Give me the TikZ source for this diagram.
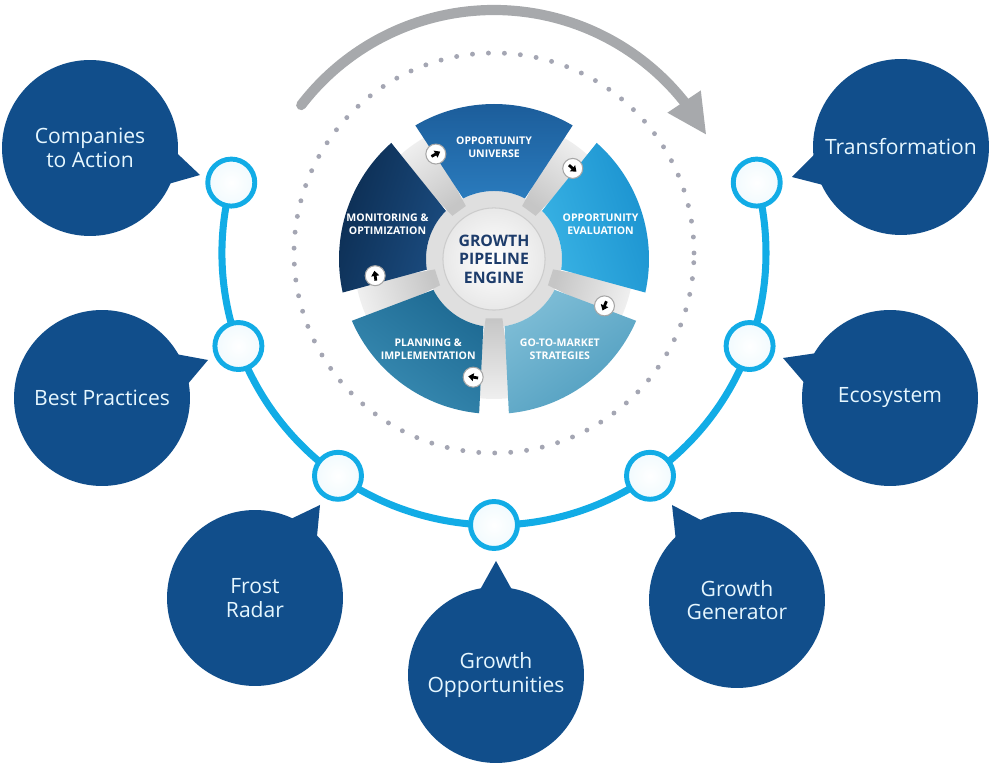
\documentclass[tikz,border=0pt]{standalone}
\usepackage{fontspec}
\setmainfont{Open Sans}
\usetikzlibrary{arrows.meta, bending, calc}

\definecolor{navy}{HTML}{114E8B}
\definecolor{bubbletext}{HTML}{E6F7FF}
\definecolor{track}{HTML}{12ACE6}
\definecolor{arrowgray}{HTML}{A7A9AC}
\definecolor{dotgray}{HTML}{A4A6B3}
\definecolor{enginetext}{HTML}{1D3C6B}
\definecolor{segAa}{HTML}{1B5B98}
\definecolor{segAb}{HTML}{2A7BBD}
\definecolor{segBa}{HTML}{1990CE}
\definecolor{segBb}{HTML}{38B2E4}
\definecolor{segCa}{HTML}{4F9DBF}
\definecolor{segCb}{HTML}{7EBDD6}
\definecolor{segDa}{HTML}{3A8DB4}
\definecolor{segDb}{HTML}{1E6A93}
\definecolor{segEa}{HTML}{0B2B4F}
\definecolor{segEb}{HTML}{1B4C80}

\begin{document}
\begin{tikzpicture}[x=0.02cm, y=0.02cm,
    bubble/.style={circle, fill=navy, minimum size=3.52cm, inner sep=0pt, align=center,
      text=bubbletext, font=\fontsize{12}{13.5}\selectfont},
    knot/.style={circle, draw=track, line width=2.8pt, inner color=white, outer color=track!6,
      minimum size=0.94cm, inner sep=0pt},
    seglabel/.style={text=white, align=center, font=\fontsize{6}{7.5}\selectfont\bfseries},
    icon/.style={circle, fill=white, draw=gray!70, line width=0.6pt, minimum size=0.4cm, inner sep=0pt}]
		\useasboundingbox (0,0) rectangle (994,767);
		\coordinate (c) at (494,514);
		\coordinate (w) at (494,508);
		% dotted ring and turning arrow
		\draw[dotgray, line width=2.8pt, line cap=round, dash pattern=on 0pt off 9.1pt] (c) circle[radius=200];
		\draw[arrowgray, line width=5.8pt, line cap=round, -{Triangle[length=23pt, width=21pt]}]
			(c) ++(142.5:243) arc[start angle=142.5, end angle=29, radius=243];
		% blue track with knots
		\draw[track, line width=4pt] (c) ++(165:272) arc[start angle=165, end angle=375, radius=272];
		\begin{scope}[shift={(c)}]
			\foreach \a [count=\i] in {165,200,...,375} {
				\node[knot] (k\i) at (\a:272) {};
			}
		\end{scope}
		% engine wheel
		\begin{scope}[shift={(w)}]
			\fill[gray!25] (0,0) circle[radius=68];
			\foreach \g in {126,54,-18,-90,-162} {
				\pgfmathsetmacro{\s}{\g-90}
				\shade[left color=gray!12, right color=gray!45, shading angle=\s]
					(\g-8:60) -- (\g-8:140) arc[start angle=\g-8, end angle=\g+8, radius=140] -- (\g+8:60) -- cycle;
			}
			\foreach \a/\ca/\cb/\txt [count=\i] in {90/segAa/segAb/{OPPORTUNITY\\UNIVERSE},
					18/segBa/segBb/{OPPORTUNITY\\EVALUATION},
					-54/segCa/segCb/{GO-TO-MARKET\\STRATEGIES},
					-126/segDa/segDb/{PLANNING \&\\IMPLEMENTATION},
					162/segEa/segEb/{MONITORING \&\\OPTIMIZATION}} {
				\pgfmathsetmacro{\s}{\a-90}
				\shade[left color=\ca, right color=\cb, shading angle=\s]
					(\a+30.5:155) arc[start angle=\a+30.5, end angle=\a-30.5, radius=155]
					-- (\a-27:68) arc[start angle=\a-27, end angle=\a+27, radius=68] -- cycle;
				\node[seglabel] (seg\i) at (\a:112) {\txt};
			}
			\foreach \g [count=\i] in {119,49,-23,-100,-172} {
				\pgfmathsetmacro{\b}{\g+90}
				\pgfmathsetmacro{\f}{\g-90}
				\node[icon] (icon\i) at (\g:120) {};
				\draw[black, line width=1.6pt, -{Triangle[length=3pt, width=4.4pt]}]
					(icon\i.center) ++(\b:5) -- ++(\f:10);
			}
		\end{scope}
		\node[circle, minimum size=2cm, inner color=white, outer color=gray!18, draw=gray!40, line width=0.6pt,
			align=center, text=enginetext, font=\fontsize{9}{10.5}\selectfont\bfseries] (engine) at (w) {GROWTH\\PIPELINE\\ENGINE};
		% speech bubbles
		\coordinate (comp-tip) at (200,592);
		\coordinate (best-tip) at (208,407);
		\coordinate (frost-tip) at (320,262);
		\coordinate (gopp-tip) at (496,206);
		\coordinate (ggen-tip) at (672,262);
		\coordinate (eco-tip) at (783,409);
		\coordinate (trans-tip) at (792,590);
		\node[bubble] (comp) at (90,619) {Companies\\to Action};
		\node[bubble] (best) at (102,369) {Best Practices};
		\node[bubble] (frost) at (255,169) {Frost\\Radar};
		\node[bubble] (gopp) at (496,92) {Growth\\Opportunities};
		\node[bubble] (ggen) at (737,167) {Growth\\Generator};
		\node[bubble] (eco) at (890,369) {Ecosystem};
		\node[bubble] (trans) at (901,620) {Transformation};
		\foreach \b in {comp,best,frost,gopp,ggen,eco,trans} {
			\fill[navy] let \p1=($(\b-tip)-(\b)$), \n1={atan2(\y1,\x1)} in
				($(\b)+(\n1-11:86)$) -- (\b-tip) -- ($(\b)+(\n1+11:86)$) -- cycle;
		}
	\end{tikzpicture}
\end{document}
